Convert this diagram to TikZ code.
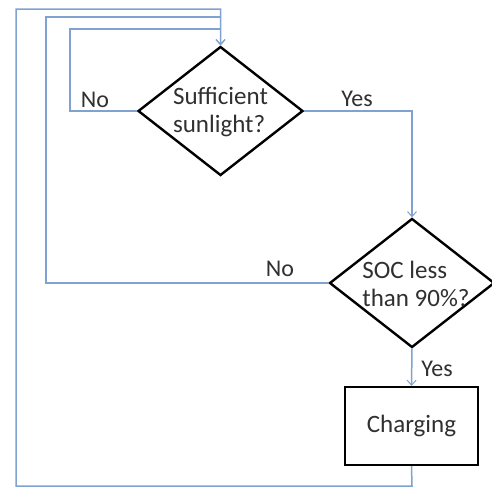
\documentclass[tikz,border=0pt]{standalone}
\usepackage{fontspec}
\setmainfont{Carlito}
\usetikzlibrary{shapes.geometric,arrows.meta}
\definecolor{conn}{HTML}{7FA2D0}
\definecolor{txt}{HTML}{303030}
\tikzset{
  decision/.style={diamond,draw=black,line width=2.4pt,inner sep=0pt,minimum width=165pt,minimum height=129pt},
  dtext/.style={text=txt,align=left,inner sep=0pt,font=\fontsize{25}{28.5}\selectfont},
  process/.style={rectangle,draw=black,line width=2.2pt,minimum width=133pt,minimum height=78pt,text=txt,font=\fontsize{25}{28}\selectfont},
  conn/.style={draw=conn,line width=1.5pt},
  arr/.style={conn,-{Straight Barb[length=5pt,width=9pt,line width=1pt]}},
  lbl/.style={text=txt,font=\fontsize{24}{28}\selectfont,inner sep=0pt},
}
\begin{document}
\begin{tikzpicture}[x=1pt,y=-1pt]
\useasboundingbox (0,0) rectangle (492,488);
\node[decision] (d1) at (220.5,111) {};
\node[dtext] (t1) at (220.5,112) {Sufficient\\sunlight?};
\node[decision] (d2) at (412,283) {};
\node[dtext] (t2) at (416,284) {SOC less\\than 90\%?};
\node[process] (ch) at (411.5,426) {Charging};
\node[lbl] (no1) at (95,100) {No};
\node[lbl] (yes1) at (357,99) {Yes};
\node[lbl] (no2) at (280,269) {No};
\node[lbl] (yes2) at (437,369) {Yes};
\coordinate (c1) at (70,29);
\coordinate (c2) at (46,17);
\coordinate (c3) at (412,486);
\coordinate (c4) at (16,9);
\draw[arr] (d1.east) -| (d2.north);
\draw[arr] (d2.south) -- (ch.north);
\draw[arr] (d1.west) -| (c1) -| (d1.north);
\draw[arr] (d2.west) -| (c2) -| (d1.north);
\draw[arr] (ch.south) -- (c3) -| (c4) -| (d1.north);
\end{tikzpicture}
\end{document}
